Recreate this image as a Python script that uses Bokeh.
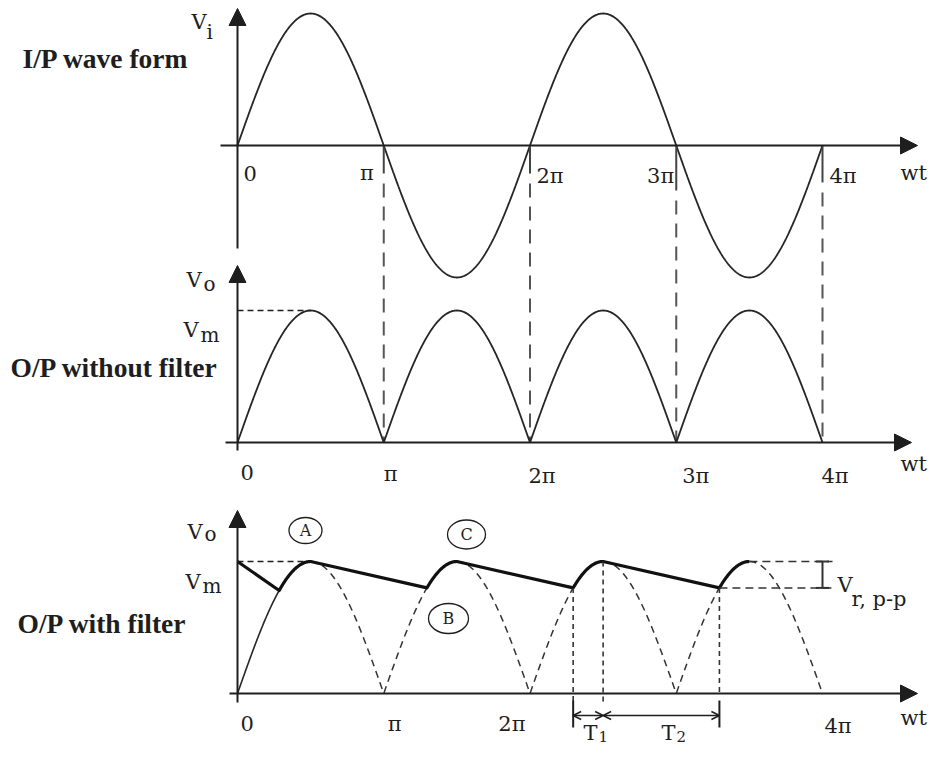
import numpy as np
from bokeh.plotting import figure
from bokeh.models import Arrow, NormalHead, OpenHead, TeeHead, Range1d
from bokeh.embed import file_html
from bokeh.resources import INLINE
from bokeh.core.properties import value

# ---------------- data ----------------
Vm = 1.0
wt_end = 4                                   # 0 .. 4π (units of π)
tick_vals = [0, 1, 2, 3, 4]                  # units of π
tick_labels = ["0", "π", "2π", "3π", "4π"]
bottom_tick_vals = [0, 1, 2, 4]
bottom_tick_labels = ["0", "π", "2π", "4π"]
panel_titles = ["I/P wave form", "O/P without filter", "O/P with filter"]
peak_wt = [0.5, 1.5, 2.5, 3.5]               # units of π
valley_v = [0.78, 0.80, 0.80, 0.80]          # capacitor voltage where diode starts conducting (× Vm)
marker_letters = ["A", "C", "B"]

# ---------------- layout helpers (reference pixel -> data) ----------------
PXX = 146.25      # px per π
PXY = 132.0       # px per Vm
OX, OY = 237.0, 693.0
def X(px): return (px - OX) / PXX
def Y(py): return (OY - py) / PXY

Y_TOP = Y(145)
Y_MID = Y(442)
Y_BOT = 0.0

INK = "#1e1e1e"
SERIF = value("Liberation Serif")
MATH = value("DejaVu Serif")

p = figure(width=928, height=747, output_backend="svg", toolbar_location=None,
           x_range=Range1d(X(0), X(928)), y_range=Range1d(Y(747), Y(0)),
           x_axis_location=None, y_axis_location=None, min_border=0)
p.grid.visible = False
p.outline_line_color = None
p.background_fill_color = "white"

def axis_arrow(x0, y0, x1, y1, size=17):
    p.add_layout(Arrow(x_start=x0, y_start=y0, x_end=x1, y_end=y1, line_width=2, line_color=INK,
                       end=NormalHead(size=size, fill_color=INK, line_color=INK, line_width=1)))

def txt(xs, ys, texts, size, align="left", bold=False, font=MATH, color=INK, baseline="alphabetic"):
    p.text(x=xs, y=ys, text=texts, text_font=font, text_font_size=size, text_align=align,
           text_baseline=baseline, text_color=color, text_font_style="bold" if bold else "normal")

# ---------------- top panel: input ----------------
wt = np.linspace(0, wt_end, 1201)
vin = Vm * np.sin(np.pi * wt)
axis_arrow(X(220), Y_TOP, X(917), Y_TOP)
axis_arrow(0, Y(248), 0, Y(8))
p.line(wt, Y_TOP + vin, line_color="#262626", line_width=1.8)

tick_len_px = [28, 28, 45, 37]
for k, L in zip(tick_vals[1:], tick_len_px):
    p.segment(x0=k, y0=Y_TOP, x1=k, y1=Y_TOP - L / PXY, line_color="#444", line_width=2)
    p.segment(x0=k, y0=Y_TOP - (L + 10) / PXY, x1=k, y1=Y_MID, line_color="#555",
              line_width=2, line_dash="14 9")

top_off = [6, -10, 6.5, -2, 7]
top_align = ["left", "right", "left", "right", "left"]
top_bl = [173, 172, 175, 175, 175]
for k, lab, o, a, b in zip(tick_vals, tick_labels, top_off, top_align, top_bl):
    txt([k + o / PXX], [Y(b)], [lab], "21px", align=a)
txt([X(900)], [Y(172)], ["wt"], "21px")

# ---------------- middle panel: full-wave output ----------------
vout = Vm * np.abs(np.sin(np.pi * wt))
axis_arrow(X(225), Y_MID, X(911), Y_MID)
axis_arrow(0, Y(450), 0, Y(265))
p.line(wt, Y_MID + vout, line_color="#262626", line_width=1.8)
p.line([0, peak_wt[0]], [Y_MID + Vm, Y_MID + Vm], line_color=INK, line_width=1.3, line_dash="6 4")

mid_off = [3, 0, -1.5, 6, -1]
mid_bl = [472, 473, 475, 475, 475]
for k, lab, o, b in zip(tick_vals, tick_labels, mid_off, mid_bl):
    txt([k + o / PXX], [Y(b)], [lab], "21px")
txt([X(900)], [Y(463)], ["wt"], "21px")

# ---------------- bottom panel: output with filter ----------------
axis_arrow(X(229), Y_BOT, X(917), Y_BOT)
axis_arrow(0, Y(702), 0, Y(510))
p.line([0, peak_wt[0]], [Vm, Vm], line_color=INK, line_width=1.3, line_dash="6 4")

# valley (conduction start) positions from the sine: rising edge of each hump
valley_wt = [k + np.arcsin(v / Vm) / np.pi for k, v in enumerate(valley_v)]

def hump(a, b, n=200):
    t = np.linspace(a, b, n)
    return t, Vm * np.abs(np.sin(np.pi * t))

# thin solid rise from origin
t0, v0 = hump(0, valley_wt[0])
p.line(t0, v0, line_color="#262626", line_width=1.6)

# dashed rectified wave (the parts the capacitor hides)
dxs, dys = [], []
ends = valley_wt[1:] + [wt_end]
for a, b in zip(peak_wt, ends):
    t, v = hump(a, b)
    dxs.append(list(t)); dys.append(list(v))
p.multi_line(dxs, dys, line_color="#333", line_width=1.5, line_dash="7 5")

# thick filtered output
fx, fy = [0.0], [Vm]
for i in range(4):
    t, v = hump(valley_wt[i], peak_wt[i], 60)
    fx += list(t); fy += list(v)
p.line(fx, fy, line_color="#111", line_width=3.2, line_join="round")

# vertical dashed markers
p.segment(x0=[valley_wt[2], peak_wt[2], valley_wt[3]], y0=[valley_v[2], Vm, valley_v[3]],
          x1=[valley_wt[2], peak_wt[2], valley_wt[3]], y1=[Y(705), Y(705), Y_BOT],
          line_color="#333", line_width=1.6, line_dash="5 4")

# T1 / T2 intervals
yT = Y(715)
for a, b in [(valley_wt[2], peak_wt[2]), (peak_wt[2], valley_wt[3])]:
    p.add_layout(Arrow(x_start=a, y_start=yT, x_end=b, y_end=yT, line_color=INK, line_width=1.5,
                       start=OpenHead(size=8, line_color=INK, line_width=1.5),
                       end=OpenHead(size=8, line_color=INK, line_width=1.5)))
p.segment(x0=[valley_wt[2], valley_wt[3]], y0=[Y(700)] * 2, x1=[valley_wt[2], valley_wt[3]],
          y1=[Y(727)] * 2, line_color=INK, line_width=2)
txt([X(583), X(661)], [Y(732)] * 2, ["T", "T"], "21px")
txt([X(598), X(676)], [Y(736)] * 2, ["1", "2"], "15px")

# ripple
p.segment(x0=[peak_wt[3], valley_wt[3]], y0=[Vm, valley_v[3]], x1=[X(832)] * 2, y1=[Vm, valley_v[3]],
          line_color="#333", line_width=1.5, line_dash="8 5")
p.add_layout(Arrow(x_start=X(822), y_start=valley_v[3], x_end=X(822), y_end=Vm, line_color="#333",
                   line_width=2, start=TeeHead(size=13, line_color="#333", line_width=2),
                   end=TeeHead(size=13, line_color="#333", line_width=2)))
txt([X(837)], [Y(584)], ["V"], "21px")
txt([X(851)], [Y(598)], ["r, p-p"], "21px")

bot_off = [3, 4, -4.5, 2]
bot_align = ["left", "left", "right", "left"]
bot_bl = [723, 723, 723, 725]
for k, lab, o, a, b in zip(bottom_tick_vals, bottom_tick_labels, bot_off, bot_align, bot_bl):
    txt([k + o / PXX], [Y(b)], [lab], "21px", align=a)
txt([X(900)], [Y(717)], ["wt"], "21px")

# circled markers
ex = [X(305), X(466), X(448)]
ey = [Y(530), Y(534), Y(618)]
p.ellipse(x=ex, y=ey, width=[33, 38, 40], height=[26, 29, 30], width_units="screen",
          height_units="screen", fill_color=None, line_color=INK, line_width=1.3)
txt(ex, ey, marker_letters, "16px", align="center", baseline="middle")

# ---------------- axis names ----------------
txt([X(191), X(186), X(183), X(187), X(185)], [Y(21), Y(279), Y(329), Y(531), Y(581)],
    ["V", "V", "V", "V", "V"], "21px")
txt([X(206), X(203), X(200), X(204), X(202)], [Y(31), Y(283), Y(334), Y(533), Y(585)],
    ["i", "o", "m", "o", "m"], "20px")

# ---------------- panel titles ----------------
txt([X(22), X(10), X(17)], [Y(58), Y(367), Y(623)], panel_titles, "27.5px", bold=True, font=SERIF)

open("out.html", "w").write(file_html(p, INLINE))
